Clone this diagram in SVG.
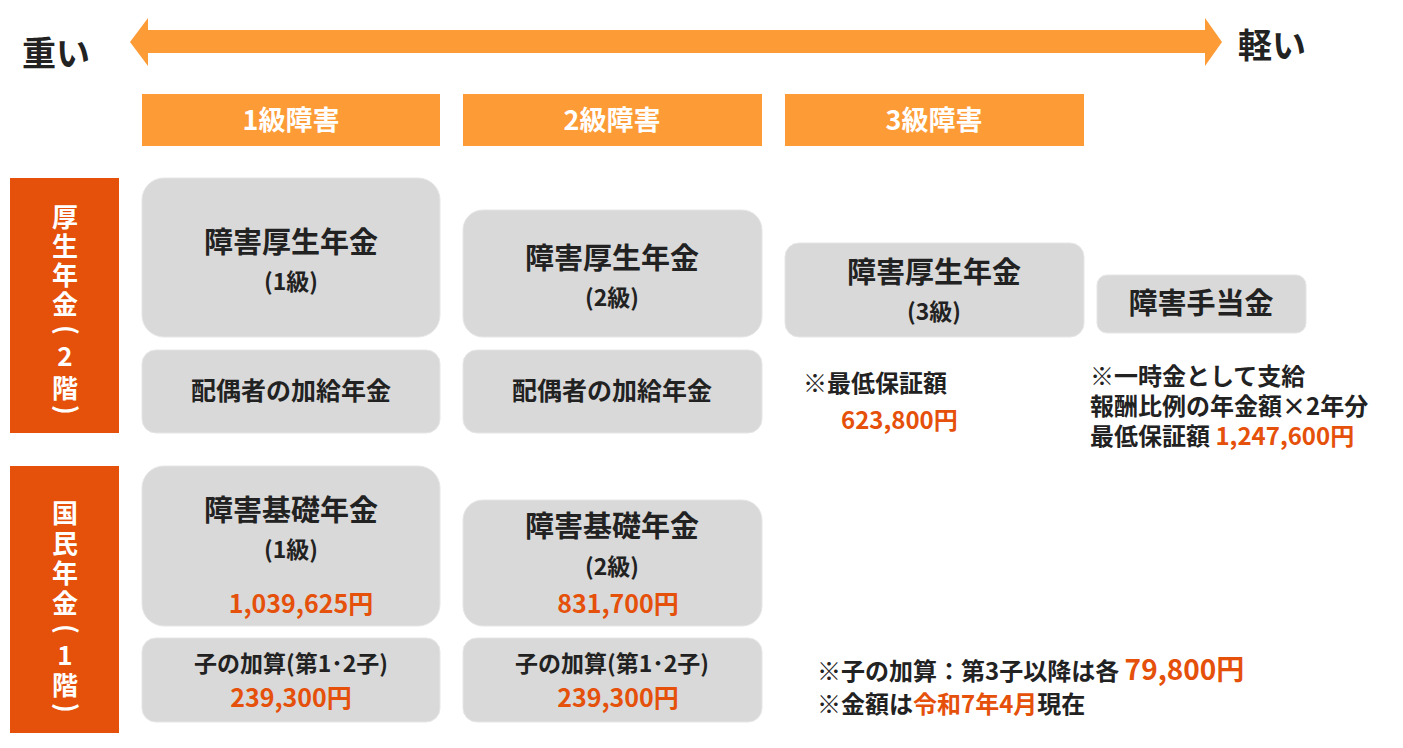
<svg xmlns="http://www.w3.org/2000/svg" width="1403" height="748" viewBox="0 0 1403 748">
<style>
text{font-family:"Noto Sans CJK JP","Noto Sans",sans-serif;font-weight:bold;fill:#222;text-anchor:middle}
.h{fill:#fff;font-size:27px}
.b{fill:#d9d9d9;stroke:#e6e6e6;stroke-width:1}
.o{fill:#e5500a}
.t{font-size:29px}
.s{font-size:23px}
.m{font-size:25px}
.n{font-size:24px;text-anchor:start}
.v{fill:#fff;font-size:26px}
</style>
<rect width="1403" height="748" fill="#fff"/>
<g id="arrow">
<polygon points="130,42 148,18 148,30 1205,30 1205,18 1222,42 1205,66 1205,53 148,53 148,66" fill="#fd9b37"/>
</g>
<text x="56" y="66" style="font-size:34px">重い</text>
<text x="1272" y="58" style="font-size:34px">軽い</text>
<g id="h1"><rect x="142" y="94" width="298" height="52" fill="#fd9b37"/><text class="h" x="291" y="130">1級障害</text></g>
<g id="h2"><rect x="463" y="94" width="299" height="52" fill="#fd9b37"/><text class="h" x="612" y="130">2級障害</text></g>
<g id="h3"><rect x="785" y="94" width="299" height="52" fill="#fd9b37"/><text class="h" x="934" y="130">3級障害</text></g>
<g id="kousei"><rect x="10" y="178" width="109" height="255" fill="#e5500a"/>
<text class="v" x="65" y="227">厚</text><text class="v" x="65" y="256">生</text><text class="v" x="65" y="285">年</text><text class="v" x="65" y="314">金</text><text class="v" x="65" y="338" transform="rotate(90 65 330)">(</text><text class="v" x="65" y="366">2</text><text class="v" x="65" y="398">階</text><text class="v" x="65" y="418" transform="rotate(90 65 410)">)</text></g>
<g id="kokumin"><rect x="10" y="466" width="109" height="267" fill="#e5500a"/>
<text class="v" x="65" y="523">国</text><text class="v" x="65" y="553">民</text><text class="v" x="65" y="583">年</text><text class="v" x="65" y="613">金</text><text class="v" x="65" y="637" transform="rotate(90 65 629)">(</text><text class="v" x="65" y="665">1</text><text class="v" x="65" y="695">階</text><text class="v" x="65" y="716" transform="rotate(90 65 708)">)</text></g>
<g id="k1"><rect class="b" x="142" y="178" width="298" height="159" rx="22"/><text class="t" x="291" y="253">障害厚生年金</text><text class="s" x="291" y="290">(1級)</text></g>
<g id="k2"><rect class="b" x="463" y="210" width="299" height="127" rx="20"/><text class="t" x="612" y="269">障害厚生年金</text><text class="s" x="612" y="306">(2級)</text></g>
<g id="k3"><rect class="b" x="785" y="243" width="299" height="94" rx="14"/><text class="t" x="934" y="283">障害厚生年金</text><text class="s" x="934" y="320">(3級)</text></g>
<g id="teate"><rect class="b" x="1097" y="275" width="209" height="58" rx="10"/><text class="t" x="1201" y="314">障害手当金</text></g>
<g id="h1s"><rect class="b" x="142" y="350" width="298" height="83" rx="14"/><text class="m" x="291" y="400">配偶者の加給年金</text></g>
<g id="h2s"><rect class="b" x="463" y="350" width="299" height="83" rx="14"/><text class="m" x="612" y="400">配偶者の加給年金</text></g>
<g id="kk1"><rect class="b" x="142" y="466" width="298" height="160" rx="22"/><text class="t" x="291" y="521">障害基礎年金</text><text class="s" x="291" y="558">(1級)</text><text class="m o" x="301" y="613">1,039,625円</text></g>
<g id="kk2"><rect class="b" x="463" y="500" width="299" height="126" rx="20"/><text class="t" x="612" y="537">障害基礎年金</text><text class="s" x="612" y="575">(2級)</text><text class="m o" x="618" y="613">831,700円</text></g>
<g id="c1"><rect class="b" x="142" y="638" width="298" height="84" rx="14"/><text class="s" x="291" y="672">子の加算(第1･2子)</text><text class="m o" x="291" y="707">239,300円</text></g>
<g id="c2"><rect class="b" x="463" y="638" width="299" height="84" rx="14"/><text class="s" x="612" y="672">子の加算(第1･2子)</text><text class="m o" x="618" y="707">239,300円</text></g>
<text class="n" x="803" y="392">※最低保証額</text>
<text class="n o" x="841" y="429">623,800円</text>
<text class="n" x="1090" y="385">※一時金として支給</text>
<text class="n" x="1090" y="415">報酬比例の年金額×2年分</text>
<text class="n" x="1090" y="445">最低保証額 <tspan class="o">1,247,600円</tspan></text>
<text class="n" x="817" y="680">※子の加算：第3子以降は各 <tspan class="o" style="font-size:28px">79,800円</tspan></text>
<text class="n" x="817" y="713">※金額は<tspan class="o">令和7年4月</tspan>現在</text>
</svg>
